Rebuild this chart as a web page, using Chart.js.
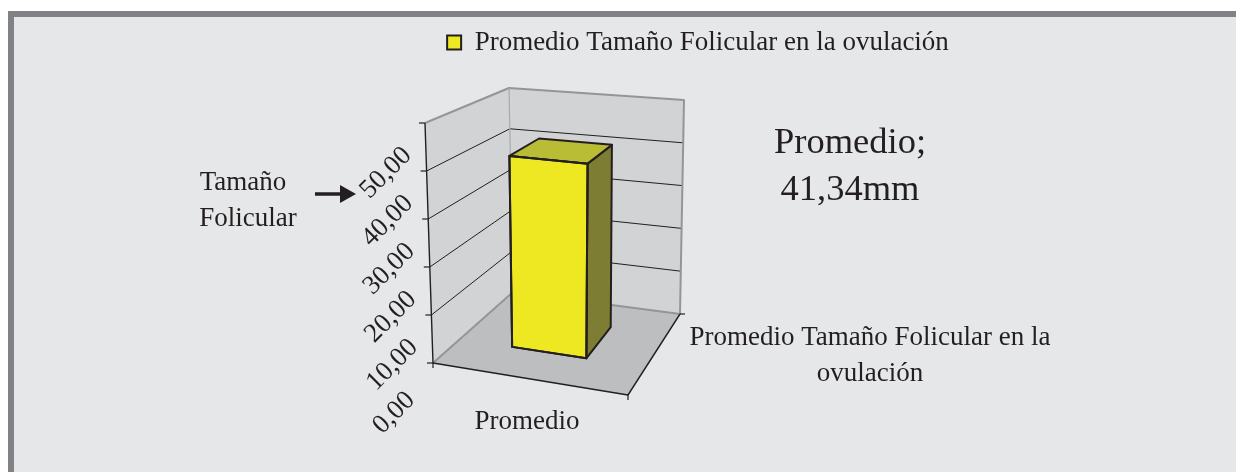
<!DOCTYPE html>
<html>
<head>
<meta charset="utf-8">
<script src="https://cdn.jsdelivr.net/npm/chart.js@4"></script>
<style>
    html, body { margin: 0; background: #fff; }
    #frame { position: absolute; left: 8px; top: 11px; right: 0; bottom: 0; border-left: 6px solid #808285; border-top: 6px solid #808285; background: #e6e7e8; }
    #box { position: absolute; left: 0; top: 0; width: 1236px; height: 472px; }
</style>
</head>
<body>
<div id="frame"></div>
<div id="box"><canvas id="chart"></canvas></div>
<script>
//Donnees
const categories = ['Promedio'];
const seriesName = 'Promedio Tamaño Folicular en la ovulación';
const seriesValues = [41.34];
const yTitle = ['Tamaño', 'Folicular'];
const seriesLabelLines = ['Promedio Tamaño Folicular en la', 'ovulación'];
const valueUnit = 'mm';

const FONT = '"Liberation Serif", serif';
const INK = '#231f20';

//Coins du cube 3D : [x, z, profondeur] -> pixel
const corners = {
    bottom: { fl: [433, 363], fr: [628, 395], br: [680, 314], bl: [513, 292] },
    top: { fl: [425, 123], fr: [634, 143], br: [684, 100], bl: [509, 88] }
};
const barDepth = [0.34, 0.74];
const barShift = -0.02;

function lerp(a, b, t) { return a + (b - a) * t; }

//u = largeur, v = hauteur, w = profondeur (0 a 1)
function project(u, v, w) {
    const layer = c => [0, 1].map(i =>
        lerp(lerp(c.fl[i], c.fr[i], u), lerp(c.bl[i], c.br[i], u), w));
    const b = layer(corners.bottom), t = layer(corners.top);
    return [lerp(b[0], t[0], v), lerp(b[1], t[1], v)];
}

function poly(ctx, pts, fill, stroke, width) {
    ctx.beginPath();
    pts.forEach((p, i) => i ? ctx.lineTo(p[0], p[1]) : ctx.moveTo(p[0], p[1]));
    if (fill) { ctx.closePath(); ctx.fillStyle = fill; ctx.fill(); }
    if (stroke) { ctx.strokeStyle = stroke; ctx.lineWidth = width; ctx.stroke(); }
}

function text(ctx, str, x, y, size, angle) {
    ctx.save();
    ctx.translate(x, y);
    ctx.rotate(angle || 0);
    ctx.font = size + 'px ' + FONT;
    ctx.fillStyle = INK;
    ctx.textAlign = 'center';
    ctx.textBaseline = 'middle';
    ctx.fillText(str, 0, 0);
    ctx.restore();
}

function decimals(value) { return value.toFixed(2).replace('.', ','); }

const scene3d = {
    id: 'scene3d',
    beforeDatasetsDraw(chart) {
        const ctx = chart.ctx, y = chart.scales.y;
        const vOf = val => (y.getPixelForValue(0) - y.getPixelForValue(val)) / (y.getPixelForValue(0) - y.getPixelForValue(y.max));
        ctx.save();
        ctx.lineJoin = 'round';
        //Murs et sol
        poly(ctx, [project(0,0,0), project(0,1,0), project(0,1,1), project(0,0,1)], '#d1d3d4');
        poly(ctx, [project(0,0,1), project(0,1,1), project(1,1,1), project(1,0,1)], '#d1d3d4');
        poly(ctx, [project(0,0,0), project(1,0,0), project(1,0,1), project(0,0,1)], '#bcbec0');
        //Grille
        y.ticks.forEach(t => {
            const v = vOf(t.value);
            if (v > 0 && v < 1) poly(ctx, [project(0,v,0), project(0,v,1), project(1,v,1)], null, INK, 1);
        });
        //Aretes grises
        poly(ctx, [project(0,1,0), project(0,1,1), project(1,1,1), project(1,0,1), project(0,0,1), project(0,0,0)], null, '#939598', 2);
        poly(ctx, [project(0,1,1), project(0,0,1)], null, '#a7a9ac', 1.2);
        //Axes
        poly(ctx, [project(0,1,0), project(0,0,0), project(1,0,0), project(1,0,1)], null, INK, 1.4);
        y.ticks.forEach(t => {
            const p = project(0, vOf(t.value), 0);
            poly(ctx, [[p[0] - 6, p[1]], p], null, INK, 1.2);
        });
        [project(0,0,0), project(1,0,0)].forEach(p => poly(ctx, [p, [p[0], p[1] + 5]], null, INK, 1.2));
        const br = project(1,0,1);
        poly(ctx, [br, [br[0] + 5, br[1]]], null, INK, 1.2);
        ctx.restore();
    },
    beforeDatasetDraw(chart, args) {
        const ctx = chart.ctx, area = chart.chartArea, y = chart.scales.y;
        args.meta.data.forEach(bar => {
            const u0 = (bar.x - bar.width / 2 - area.left) / area.width + barShift;
            const u1 = (bar.x + bar.width / 2 - area.left) / area.width + barShift;
            const v = (bar.base - bar.y) / (y.getPixelForValue(0) - y.getPixelForValue(y.max));
            const [w0, w1] = barDepth;
            ctx.save();
            ctx.lineJoin = 'round';
            poly(ctx, [project(u1,0,w0), project(u1,v,w0), project(u1,v,w1), project(u1,0,w1)], '#7d7e33', INK, 2);
            poly(ctx, [project(u0,v,w0), project(u1,v,w0), project(u1,v,w1), project(u0,v,w1)], '#b9bc35', INK, 2);
            poly(ctx, [project(u0,0,w0), project(u1,0,w0), project(u1,v,w0), project(u0,v,w0)], '#eee823', INK, 2);
            ctx.closePath();
            ctx.stroke();
            ctx.restore();
        });
        return false;
    },
    afterDraw(chart) {
        const ctx = chart.ctx, y = chart.scales.y;
        //Graduations
        y.ticks.forEach(t => {
            const v = (y.getPixelForValue(0) - y.getPixelForValue(t.value)) / (y.getPixelForValue(0) - y.getPixelForValue(y.max));
            const p = project(0, v, 0);
            text(ctx, t.label, p[0] - 39, p[1] + 50, 27, -Math.PI / 4);
        });
        text(ctx, categories[0], 527, 422, 27);
        text(ctx, seriesLabelLines[0], 870, 338, 27);
        text(ctx, seriesLabelLines[1], 870, 374, 27);
        text(ctx, yTitle[0], 243, 183, 27);
        text(ctx, yTitle[1], 248, 219, 27);
        text(ctx, categories[0] + ';', 850, 143, 36.5);
        text(ctx, decimals(seriesValues[0]) + valueUnit, 850, 190, 36.5);
        //Fleche
        ctx.save();
        poly(ctx, [[315, 194], [342, 194]], null, INK, 3.5);
        poly(ctx, [[340, 185], [356, 194], [340, 203]], INK);
        ctx.restore();
    }
};

new Chart(document.getElementById('chart'), {
    type: 'bar',
    data: {
        labels: categories,
        datasets: [{
            label: seriesName,
            data: seriesValues,
            backgroundColor: '#eee823',
            borderColor: INK,
            borderWidth: 2,
            barPercentage: 0.4,
            categoryPercentage: 1
        }]
    },
    options: {
        responsive: true,
        maintainAspectRatio: false,
        animation: false,
        layout: { padding: { left: 160, top: 29 } },
        scales: {
            x: { display: false },
            y: {
                display: false,
                min: 0,
                max: 50,
                ticks: { stepSize: 10, callback: value => decimals(value) }
            }
        },
        plugins: {
            tooltip: { enabled: false },
            legend: {
                position: 'top',
                labels: { boxWidth: 14, boxHeight: 14, padding: 0, color: INK, font: { family: FONT, size: 27 } }
            }
        }
    },
    plugins: [scene3d]
});
</script>
</body>
</html>
